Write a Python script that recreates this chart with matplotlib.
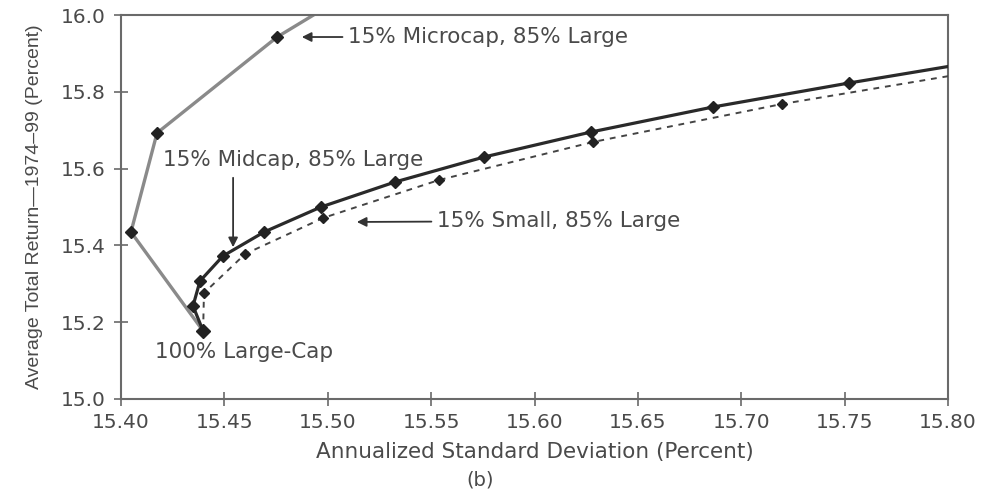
import matplotlib
matplotlib.use("Agg")
import matplotlib.pyplot as plt

# Risk / return of 85% large-cap blends with 15% of another size class
# (last point of each curve runs past the frame and is clipped)
large_sd = [15.4397]
large_ret = [15.1771]

midcap_sd = [15.4397, 15.4348, 15.4382, 15.4493, 15.4692, 15.4967,
             15.5325, 15.5756, 15.6273, 15.6863, 15.7521, 15.8247]
midcap_ret = [15.1771, 15.2422, 15.3073, 15.3724, 15.4349, 15.5000,
              15.5651, 15.6302, 15.6953, 15.7604, 15.8229, 15.8880]

small_sd = [15.4397, 15.4401, 15.4600, 15.4977, 15.5538, 15.6283,
            15.7197, 15.8295]
small_ret = [15.1771, 15.2760, 15.3776, 15.4714, 15.5703, 15.6693,
             15.7682, 15.8672]

micro_sd = [15.4397, 15.4048, 15.4174, 15.4755, 15.5115]
micro_ret = [15.1771, 15.4349, 15.6927, 15.9427, 16.0600]

x_ticks = [15.40, 15.45, 15.50, 15.55, 15.60, 15.65, 15.70, 15.75, 15.80]
y_ticks = [15.0, 15.2, 15.4, 15.6, 15.8, 16.0]

plt.rcParams['font.family'] = ['DejaVu Sans']
TXT = '#4a4a4a'
MK = '#222222'

fig = plt.figure(figsize=(9.93, 4.97), dpi=100)
ax = fig.add_axes([0.1219, 0.1972, 0.8328, 0.7726])

ax.plot(micro_sd, micro_ret, color='#8a8a8a', lw=2.4, marker='D', ms=6,
        mfc=MK, mec=MK, zorder=2)
ax.plot(small_sd, small_ret, color='#444444', lw=1.4, ls=(0, (3, 3)),
        marker='D', ms=5, mfc=MK, mec=MK, zorder=3)
ax.plot(midcap_sd, midcap_ret, color='#2a2a2a', lw=2.3, marker='D', ms=6,
        mfc=MK, mec=MK, zorder=4)
ax.plot(large_sd, large_ret, ls='none', marker='D', ms=7,
        mfc=MK, mec=MK, zorder=5)

ax.set_xlim(15.40, 15.80)
ax.set_ylim(15.0, 16.0)
ax.set_xticks(x_ticks)
ax.set_xticklabels([f'{v:.2f}' for v in x_ticks])
ax.set_yticks(y_ticks)
ax.set_yticklabels([f'{v:.1f}' for v in y_ticks])

for s in ax.spines.values():
    s.set_color('#6a6a6a')
    s.set_linewidth(1.5)
ax.tick_params(direction='inout', length=10, width=1.2, color='#6a6a6a',
               labelsize=14.5, labelcolor=TXT)
ax.tick_params(axis='x', pad=5)
ax.tick_params(axis='y', pad=6)

ax.set_xlabel('Annualized Standard Deviation (Percent)', fontsize=15.5,
              color=TXT)
ax.xaxis.set_label_coords(0.5, -0.112)
ax.set_ylabel('Average Total Return\u20141974\u201399 (Percent)', fontsize=14,
              color=TXT, family='Liberation Sans')
ax.yaxis.set_label_coords(-0.094, 0.5)
fig.text(0.4834, 0.034, '(b)', ha='center', va='center', fontsize=14,
         color=TXT)

arrow = dict(arrowstyle='-|>', color='#333333', lw=1.3, mutation_scale=14)
ax.annotate('15% Microcap, 85% Large', xy=(15.4861, 15.9427),
            xytext=(15.5098, 15.9427), va='center', fontsize=15.5, color=TXT,
            arrowprops=arrow)
ax.annotate('15% Small, 85% Large', xy=(15.5127, 15.461),
            xytext=(15.5528, 15.4635), va='center', fontsize=15.5, color=TXT,
            arrowprops=arrow)
ax.text(15.4203, 15.6224, '15% Midcap, 85% Large', va='center',
        fontsize=15.5, color=TXT)
ax.annotate('', xy=(15.4542, 15.388), xytext=(15.4542, 15.5833),
            arrowprops=arrow)
ax.text(15.4164, 15.1224, '100% Large-Cap', va='center', fontsize=15.5,
        color=TXT)

fig.savefig('out.png', dpi=100)
